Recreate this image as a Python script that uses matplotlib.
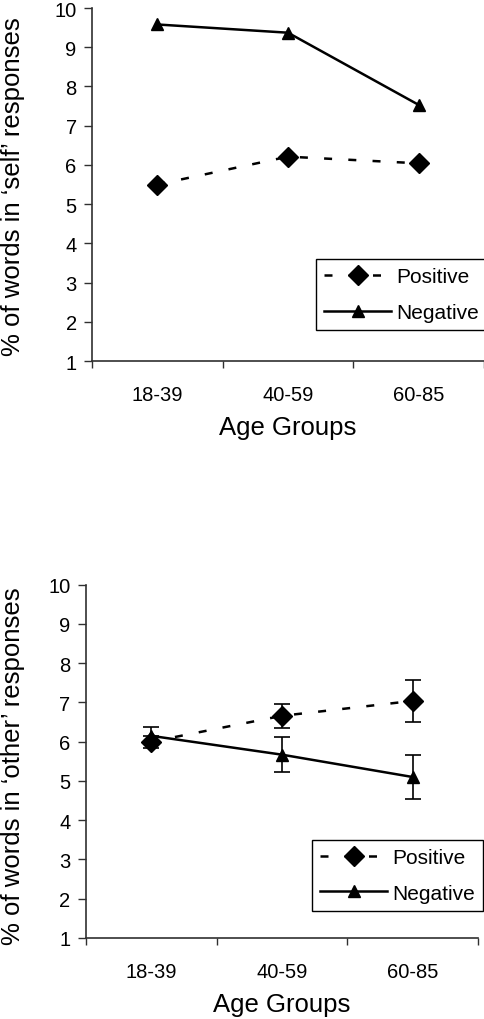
import matplotlib
matplotlib.use("Agg")
import matplotlib.pyplot as plt
from matplotlib.ticker import FixedLocator
from matplotlib.lines import Line2D

plt.rcParams['font.family'] = ['Liberation Sans', 'DejaVu Sans']

age_groups = ["18-39", "40-59", "60-85"]

self_positive = [5.50, 6.21, 6.04]
self_negative = [9.58, 9.37, 7.53]

other_positive = [6.00, 6.66, 7.04]
other_positive_err = [0.15, 0.30, 0.54]
other_negative = [6.15, 5.67, 5.10]
other_negative_err = [0.22, 0.45, 0.55]

y_ticks = list(range(1, 11))

W, H = 485, 1020
fig = plt.figure(figsize=(W / 100, H / 100), dpi=100)

spine_col = '#303030'
dash = (3.2, 6.5)


def make_axes(left, top, right, bottom):
    return fig.add_axes([left / W, 1 - bottom / H, (right - left) / W, (bottom - top) / H])


def style(ax, ylabel, ylab_center_y):
    x = list(range(len(age_groups)))
    ax.set_xlim(-0.5, len(age_groups) - 0.5)
    ax.set_ylim(1, 10)
    ax.set_yticks(y_ticks)
    ax.set_xticks(x)
    ax.set_xticklabels(age_groups)
    ax.xaxis.set_minor_locator(FixedLocator([i - 0.5 for i in range(len(age_groups) + 1)]))
    ax.tick_params(axis='x', which='major', length=0, pad=17, labelsize=14.5)
    ax.tick_params(axis='x', which='minor', length=5, width=1, color=spine_col, direction='out')
    ax.tick_params(axis='y', length=6, width=1, color=spine_col, pad=5, labelsize=14.5)
    for s in ['top', 'right']:
        ax.spines[s].set_visible(False)
    for s in ['left', 'bottom']:
        ax.spines[s].set_color(spine_col)
        ax.spines[s].set_linewidth(1.2)
    ax.set_xlabel("Age Groups", fontsize=18.5, labelpad=8)
    fig.text(13 / W, 1 - ylab_center_y / H, ylabel, rotation=90, ha='center', va='center',
             fontsize=18.5)


def add_legend(ax, anchor):
    handles = [
        Line2D([], [], color='black', lw=1.8, linestyle=(0, dash), marker='D', markersize=10),
        Line2D([], [], color='black', lw=1.8, linestyle='-', marker='^', markersize=9),
    ]
    leg = ax.legend(handles, ['Positive', 'Negative'], loc='upper left', bbox_to_anchor=anchor,
                    borderaxespad=0, fontsize=15, handlelength=3.2, handletextpad=0.25,
                    labelspacing=0.8, borderpad=0.4, fancybox=False, framealpha=1,
                    edgecolor='black')
    leg.get_frame().set_linewidth(1.0)
    return leg


x = list(range(len(age_groups)))

# ---- Top panel: self responses ----
ax1 = make_axes(92, 9, 484, 362)
ax1.plot(x, self_positive, color='black', lw=1.8, linestyle=(0, dash), marker='D',
         markersize=10, clip_on=False)
ax1.plot(x, self_negative, color='black', lw=1.8, linestyle='-', marker='^',
         markersize=9, clip_on=False)
style(ax1, "% of words in \u2018self\u2019 responses", 187)
add_legend(ax1, ((316 - 92) / 392, (362 - 260) / 353))

# ---- Bottom panel: other responses ----
ax2 = make_axes(85.7, 585.7, 478.3, 939)
ax2.errorbar(x, other_positive, yerr=other_positive_err, color='black', lw=1.8,
             linestyle=(0, dash), marker='D', markersize=10, capsize=6, elinewidth=1.2,
             capthick=1.2, clip_on=False)
ax2.errorbar(x, other_negative, yerr=other_negative_err, color='black', lw=1.8,
             linestyle='-', marker='^', markersize=9, capsize=6, elinewidth=1.2,
             capthick=1.2, clip_on=False)
style(ax2, "% of words in \u2018other\u2019 responses", 766)
add_legend(ax2, ((312 - 85.7) / 392.6, (939 - 840.7) / 353.3))

fig.savefig("out.png", dpi=100, facecolor='white')
